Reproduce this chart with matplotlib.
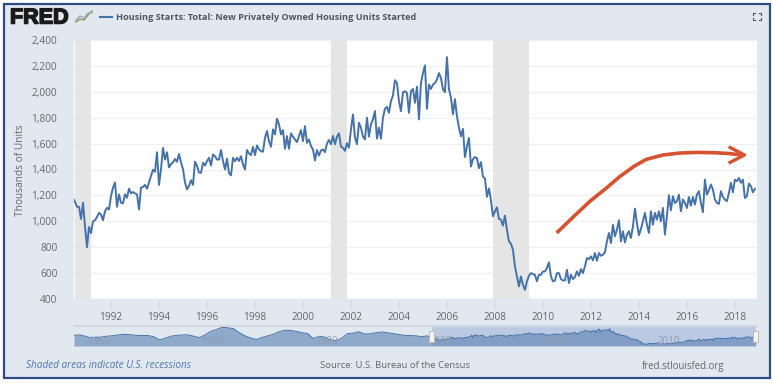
import numpy as np
import matplotlib
matplotlib.use("Agg")
import matplotlib.pyplot as plt
import matplotlib.patheffects as pe
from matplotlib.patches import Rectangle

plt.rcParams['font.family'] = ['Open Sans', 'DejaVu Sans']

# Monthly housing starts (thousands), June 1990 onward
starts_1990s = [1177,1150,1112,1112,1018,1143,960,800,956,909,1000,1008,1034,1065,1052,1008,
    1078,1104,1091,1195,1260,1300,1112,1208,1143,1138,1208,1182,1252,1216,1226,1216,1208,1091,
    1260,1265,1281,1252,1300,1351,1398,1382,1533,1281,1403,1567,1476,1533,1416,1442,1455,1481,
    1460,1520,1455,1403,1300,1247,1273,1317,1281,1460,1429,1377,
    1374,1452,1431,1465,1490,1431,1516,1503,1477,1477,1550,1465,1400,1483,1374,1354,1490,1465,
    1490,1465,1503,1439,1400,1550,1524,1511,1575,1511,1586,1555,1542,1537,1645,1697,1619,1575,
    1710,1671,1792,1748,1671,1704,1560,1658,1560,1679,1653,1632,1612,1658,1704,1619,1735,1606,
    1632,1581,1555,1470,1550,1508,1547,1555,1534]
starts_2000s = [1600,1628,1595,1659,1595,1654,1679,1577,1567,1544,1603,1569,1710,1825,1646,1595,
    1761,1723,1654,1633,1800,1654,1748,1787,1851,1638,1723,1638,1800,1869,1884,1838,1928,1971,
    2089,2068,1928,1851,1997,2004,1992,1838,2004,2022,1915,2040,1787,2068,2145,2204,1869,2056,
    2022,2056,2068,2094,2145,2107,2020,1997,2268,
    2021,1956,1826,1943,1813,1722,1657,1714,1496,1579,1644,1423,1480,1496,1488,1410,1457,1345,
    1332,1189,1254,1163,
    1039,1077,1108,1018,1013,966,1044,935,845,827,781,652,574,497,574,510,471,536,579,600,592,
    587,536,587,587,613,613,639,683,574,536,543]
starts_2010s = [600,600,554,543,543,626,523,587,554,569,613,579,631,600,652,716,708,729,698,755,
    695,755,734,742,760,845,910,832,974,884,935,1008,845,923,837,897,923,
    871,961,1098,987,892,941,1000,1065,974,910,1077,974,1065,1013,1077,1000,1103,897,1040,1201,
    1085,1194,1142,1155,1206,1077,1168,1142,1103,1188,1121,1188,1129,1206,1232,1142,1070,1322,
    1206,1240,1284,1245,1168,1142,1134,1232,1188,1168,1155,1219,1297,1224,1322,1310,1335,1297,
    1322,1180,1194,1292,1271,1224,1250]

# Half-yearly levels for the long-range navigator, Jan 1959 to early 1990
history_values = [1500,1560,1400,1200,1240,1340,1420,1470,1570,1620,1560,1500,1490,1480,1350,1000,
    1180,1400,1500,1540,1560,1400,1250,1550,1950,2150,2400,2350,2250,1800,1450,1200,
    1050,1270,1450,1620,1900,2080,2050,1950,1800,1700,1150,1400,1300,1000,920,1180,
    1700,1750,1900,1650,1680,1800,1880,1800,1700,1600,1500,1480,1450,1350,1450]
history_start = 1959.0

recessions = [(1990.5, 1991.17), (2001.17, 2001.85), (2007.92, 2009.42)]
y_ticks = list(range(400, 2401, 200))
x_ticks = list(range(1992, 2019, 2))
nav_labels = [1960, 1970, 1980, 1990, 2000, 2010]

# Hand-drawn trend arrow (year, thousands of units)
trend_x = [2010.57, 2011.3, 2011.96, 2012.6, 2013.2, 2013.8, 2014.3, 2015.0, 2015.7, 2016.4, 2017.08, 2017.7, 2018.33]
trend_y = [910, 1040, 1155, 1250, 1345, 1425, 1478, 1512, 1527, 1532, 1530, 1524, 1512]
head_x = [2017.8, 2018.4, 2017.8]
head_y = [1570, 1512, 1455]

title = "Housing Starts: Total: New Privately Owned Housing Units Started"
PANEL, LINE, TXT = "#E1E8F0", "#4572A7", "#63676B"

starts = np.array(starts_1990s + starts_2000s + starts_2010s, float)
years = 1990 + (5 + np.arange(len(starts))) / 12

W, H = 773, 385
fig = plt.figure(figsize=(W / 100, H / 100), dpi=100, facecolor="white")

def box(l, t, r, b):
    return [l / W, 1 - b / H, (r - l) / W, (b - t) / H]

# panel behind everything
back = fig.add_axes([0, 0, 1, 1], zorder=-1)
back.set_xlim(0, W); back.set_ylim(H, 0); back.axis("off")
back.add_patch(Rectangle((4, 3.5), 765.5, 374.5, fc=PANEL, ec="#2F4A84", lw=1.6))

# page texts in pixel coordinates
bg = fig.add_axes([0, 0, 1, 1], zorder=3)
bg.set_xlim(0, W); bg.set_ylim(H, 0); bg.axis("off"); bg.patch.set_alpha(0)
logo = bg.text(10, 18, "FRED", fontsize=15.5, fontweight="bold", color="#1A1A1A", va="center",
               family=["Liberation Sans", "DejaVu Sans"])
logo.set_path_effects([pe.withStroke(linewidth=1.1, foreground="#1A1A1A")])
bg.plot([76, 80, 84, 88, 92], [22, 19, 20, 15, 11], color="#7F9A4E", lw=1)
bg.plot([76, 80, 84, 88, 92], [20, 16, 18, 13, 13], color="#9AA8B8", lw=1)
bg.plot([100, 112], [17, 17], color=LINE, lw=1.5)
bg.text(116, 17.5, title, fontsize=6.6, fontweight="bold", color="#50565E", va="center")
for cx, cy, dx, dy in [(753, 13, 1, 1), (761, 13, -1, 1), (753, 20, 1, -1), (761, 20, -1, -1)]:
    bg.plot([cx + 2 * dx, cx, cx], [cy, cy, cy + 2 * dy], color="#555555", lw=0.8)
bg.text(20.5, 170, "Thousands of Units", rotation=90, fontsize=7.3, color=TXT, ha="center", va="center")
bg.text(26, 366, "Shaded areas indicate U.S. recessions", fontsize=7.2, style="italic", color="#4F76AE", va="center")
bg.text(320, 366, "Source: U.S. Bureau of the Census", fontsize=6.8, color=TXT, va="center")
bg.text(641.5, 366, "fred.stlouisfed.org", fontsize=6.9, color=TXT, va="center")

# main chart
ax = fig.add_axes(box(74, 40, 756.5, 299), zorder=2, facecolor="white")
ax.set_xlim(1990.458, 2018.9); ax.set_ylim(400, 2400)
ax.grid(axis="y", color="#F0F0F0", lw=1); ax.set_axisbelow(True)
for s in ax.spines.values():
    s.set_visible(False)
for a, b in recessions:
    ax.axvspan(a, b, color="#E5E5E5", lw=0, zorder=1)
ax.plot(years, starts, color=LINE, lw=1.4, zorder=3, solid_joinstyle="round")
ax.plot(trend_x, trend_y, color="#D6532F", lw=2.6, zorder=4, solid_capstyle="butt", solid_joinstyle="round")
ax.plot(head_x, head_y, color="#D6532F", lw=2.4, zorder=4)
ax.set_xticks(x_ticks); ax.set_yticks(y_ticks)
ax.set_yticklabels([f"{v:,}" for v in y_ticks])
ax.tick_params(axis="y", length=0, pad=12, labelsize=7.3, labelcolor=TXT)
ax.tick_params(axis="x", length=8, width=0.7, color="#D5DCE4", pad=1, labelsize=7.3, labelcolor=TXT)

# navigator
nav = fig.add_axes(box(74, 326, 756.5, 346), zorder=2)
nav.patch.set_alpha(0)
hist_x = history_start + np.arange(len(history_values)) / 2
nx = np.concatenate([hist_x, years]); ny = np.concatenate([history_values, starts])
nav.set_xlim(1959.0, 2018.9); nav.set_ylim(310, 2550)
nav.axhline(2550, color="#CFD6DE", lw=1.2, clip_on=False)
nav.fill_between(nx, 310, ny, color="#8FA9CA", lw=0)
nav.plot(nx, ny, color=LINE, lw=0.7)
nav.axvspan(1990.458, 2018.9, color="#6685C2", alpha=0.3, lw=0)
for v in nav_labels:
    nav.text(v + 0.2, 800, str(v), fontsize=7, color="#8D9BAE", va="center")
nav.axis("off")
for hx in (431.5, 755.5):
    bg.add_patch(Rectangle((hx - 2.5, 331), 5, 11, fc="#F4F4F4", ec="#BBBBBB", lw=0.7, zorder=5))

fig.savefig("out.png", dpi=100)
